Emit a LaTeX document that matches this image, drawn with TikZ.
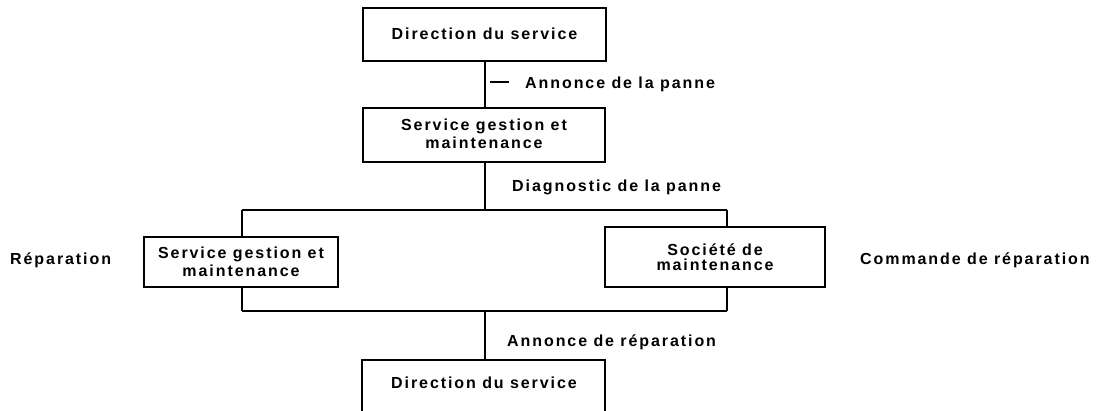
\documentclass[tikz,border=0pt]{standalone}
\usepackage{fontspec}
\setmainfont[LetterSpace=12]{Liberation Sans}
\begin{document}
\begin{tikzpicture}[x=1pt,y=-1pt,
  every node/.style={font=\fontsize{16}{19}\selectfont\bfseries},
  box/.style={draw,line width=1.2pt,inner sep=0pt,align=center},
  lab/.style={anchor=base west,inner sep=0pt},
  conn/.style={line width=1.2pt}]
\useasboundingbox (0,0) rectangle (1110,410);
% boxes
\node[box,minimum width=243pt,minimum height=53pt] (d1) at (484.5,34.5) {\raisebox{2pt}{Direction du service}};
\node[box,minimum width=242pt,minimum height=54pt] (s1) at (484,135) {\raisebox{2pt}{\shortstack{Service gestion et\\maintenance}}};
\node[box,minimum width=194pt,minimum height=50pt] (s2) at (241,262) {\shortstack{Service gestion et\\maintenance}};
\node[box,minimum width=220pt,minimum height=60pt] (sm) at (715,257) {\raisebox{-4pt}{\shortstack{Société de\\maintenance}}};
% bottom box, open at the bottom
\coordinate (d2nw) at (362,360);
\coordinate (d2ne) at (605,360);
\draw[conn] (362,420) -- (d2nw) -- (d2ne) -- (605,420);
\node (d2) at (484,383) {Direction du service};
% junction coordinates
\coordinate (j1) at (485,210);
\coordinate (jl) at (242,210);
\coordinate (jr) at (727,210);
\coordinate (kl) at (242,311);
\coordinate (kr) at (727,311);
\coordinate (k1) at (485,311);
\coordinate (d2n) at (485,360);
% connectors
\draw[conn] (d1.south -| j1) -- (s1.north -| j1);
\draw[conn] (s1.south -| j1) -- (j1);
\draw[conn] (jl) -- (jr);
\draw[conn] (jl) -- (s2.north -| jl);
\draw[conn] (jr) -- (sm.north -| jr);
\draw[conn] (s2.south -| kl) -- (kl);
\draw[conn] (sm.south -| kr) -- (kr);
\draw[conn] (kl) -- (kr);
\draw[conn] (k1) -- (d2n);
% labels
\coordinate (dash1) at (490,82);
\coordinate (dash2) at (509,82);
\draw[line width=1.2pt] (dash1) -- (dash2);
\node[lab] (l1) at (525,88) {Annonce de la panne};
\node[lab] (l2) at (512,191) {Diagnostic de la panne};
\node[lab] (l3) at (10,264) {Réparation};
\node[lab] (l4) at (860,264) {Commande de réparation};
\node[lab] (l5) at (507,346) {Annonce de réparation};
\end{tikzpicture}
\end{document}
